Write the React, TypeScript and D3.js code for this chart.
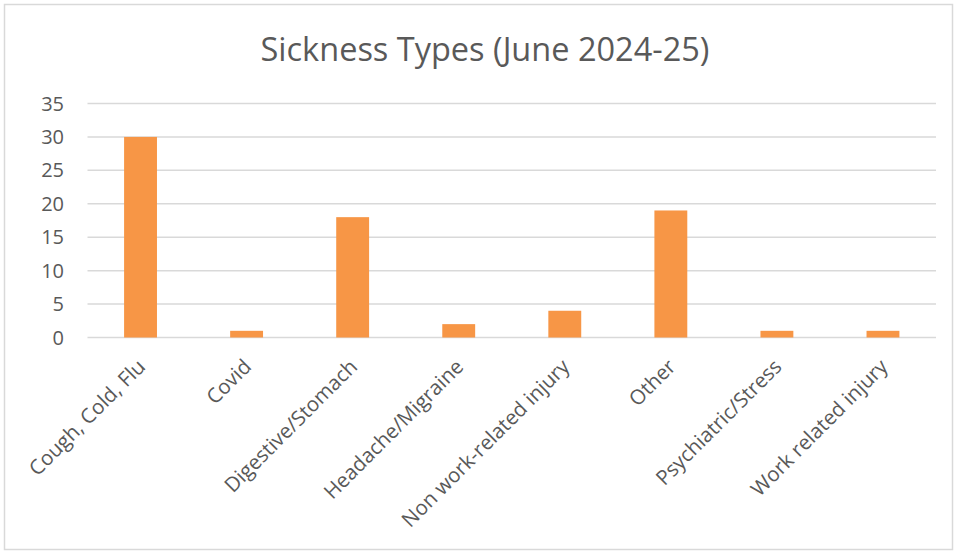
import React from "react";
import * as d3 from "d3";

const categories = [
  "Cough, Cold, Flu",
  "Covid",
  "Digestive/Stomach",
  "Headache/Migraine",
  "Non work-related injury",
  "Other",
  "Psychiatric/Stress",
  "Work related injury",
];
const counts = [30, 1, 18, 2, 4, 19, 1, 1];
const yTicks = [0, 5, 10, 15, 20, 25, 30, 35];
const title = "Sickness Types (June 2024-25)";

const W = 955;
const H = 551;
const plot = { left: 87.5, right: 936, top: 103.5, bottom: 337.5 };
const FONT = "'Open Sans', 'Liberation Sans', sans-serif";
const TEXT = "#595959";
const GRID = "#d9d9d9";
const BAR = "#f79646";

export default function App() {
  const x = d3
    .scaleBand<string>()
    .domain(categories)
    .range([plot.left, plot.right])
    .paddingInner(0.69)
    .paddingOuter(0.345);
  const y = d3.scaleLinear().domain([0, 35]).range([plot.bottom, plot.top]);

  return (
    <svg
      width={W}
      height={H}
      style={{ position: "absolute", left: 0, top: 0, background: "#fff" }}
      fontFamily={FONT}
    >
      <rect x={4.5} y={4.5} width={948} height={545} fill="#fff" stroke={GRID} strokeWidth={1.5} />
      <text x={485} y={61} textAnchor="middle" fontSize={32.5} fill={TEXT}>
        {title}
      </text>
      {yTicks.map((t) => (
        <g key={t}>
          <line x1={plot.left} x2={plot.right} y1={y(t)} y2={y(t)} stroke={GRID} strokeWidth={1.5} />
          <text x={64} y={y(t)} dy="0.35em" textAnchor="end" fontSize={20} fill={TEXT}>
            {t}
          </text>
        </g>
      ))}
      {categories.map((c, i) => (
        <rect
          key={c}
          x={x(c)!}
          y={y(counts[i])}
          width={x.bandwidth()}
          height={y(0) - y(counts[i])}
          fill={BAR}
        />
      ))}
      {categories.map((c) => {
        const cx = (x(c) ?? 0) + x.bandwidth() / 2 + 6;
        const cy = 368;
        return (
          <text
            key={c}
            transform={`translate(${cx},${cy}) rotate(-45)`}
            textAnchor="end"
            fontSize={20.5}
            fill={TEXT}
          >
            {c}
          </text>
        );
      })}
    </svg>
  );
}
